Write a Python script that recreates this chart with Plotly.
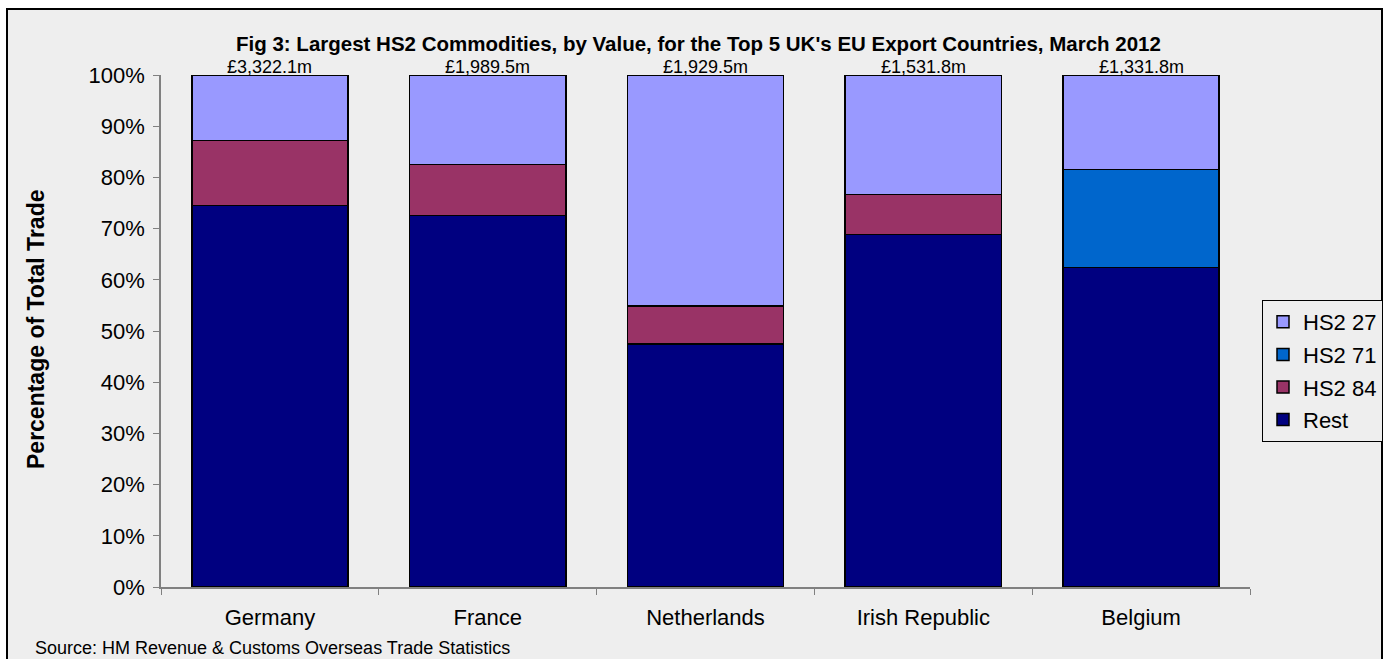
import plotly.graph_objects as go

# Top 5 UK EU export destinations, March 2012
countries = ["Germany", "France", "Netherlands", "Irish Republic", "Belgium"]
totals = ["£3,322.1m", "£1,989.5m", "£1,929.5m", "£1,531.8m", "£1,331.8m"]

# Share of total trade (%) by HS2 commodity chapter
rest = [74.5, 72.6, 47.5, 68.8, 62.4]
hs2_84 = [12.7, 9.9, 7.4, 7.9, None]
hs2_71 = [None, None, None, None, 19.1]
hs2_27 = [12.8, 17.5, 45.1, 23.3, 18.5]

# (name, values, colour, legend rank) - stacked bottom to top
series = [
    ("Rest", rest, "#000080", 4),
    ("HS2 84", hs2_84, "#993366", 3),
    ("HS2 71", hs2_71, "#0066CC", 2),
    ("HS2 27", hs2_27, "#9999FF", 1),
]

FONT = "Arial, Liberation Sans, sans-serif"
BG = "#EEEEEE"

# pixel layout of the plot area
W, H = 1388, 659
L, R, T, B = 161, 1250, 75, 587
pw, ph = R - L, B - T


def px(x):
    return (x - L) / pw


def py(y):
    return (B - y) / ph


fig = go.Figure()
for name, vals, color, rank in series:
    fig.add_trace(go.Bar(
        x=countries, y=vals, name=name, legendgroup=name, legendrank=rank,
        marker=dict(color=color, line=dict(color="black", width=1.5)),
        width=0.717,
    ))

for c, t in zip(countries, totals):
    fig.add_annotation(x=c, y=100, text=t, showarrow=False, yanchor="bottom",
                       xanchor="center", yshift=-4,
                       font=dict(family=FONT, size=18, color="black"))

fig.add_annotation(
    x=px(698), y=py(43), xref="paper", yref="paper", showarrow=False,
    xanchor="center", yanchor="middle",
    text="<b>Fig 3: Largest HS2 Commodities, by Value, for the Top 5 UK's EU Export Countries, March 2012</b>",
    font=dict(family=FONT, size=20.5, color="black"),
)
fig.add_annotation(
    x=px(36), y=py(330), xref="paper", yref="paper", showarrow=False,
    xanchor="center", yanchor="middle",
    text="<b>Percentage of Total Trade</b>", textangle=-90,
    font=dict(family=FONT, size=23, color="black"),
)
fig.add_annotation(
    x=px(33), y=py(648), xref="paper", yref="paper", showarrow=False,
    xanchor="left", yanchor="middle",
    text="Source: HM Revenue & Customs Overseas Trade Statistics",
    font=dict(family=FONT, size=18, color="black"),
)

# outer chart frame, in page pixels
fig.add_shape(type="rect", xref="paper", yref="paper", layer="below",
              x0=px(7), x1=px(1382), y0=py(680), y1=py(9),
              line=dict(color="black", width=2), fillcolor=BG)

fig.update_layout(
    width=W, height=H,
    margin=dict(l=L, r=W - R, t=T, b=H - B, pad=0, autoexpand=False),
    barmode="stack",
    paper_bgcolor="white", plot_bgcolor=BG,
    font=dict(family=FONT, color="black"),
    showlegend=True,
    legend=dict(
        x=px(1262), y=py(300), xanchor="left", yanchor="top",
        traceorder="grouped", tracegroupgap=1,
        bgcolor=BG, bordercolor="black", borderwidth=1,
        font=dict(family=FONT, size=22, color="black"),
        itemwidth=30,
    ),
    xaxis=dict(
        showline=True, linecolor="#808080", linewidth=1.5,
        ticks="outside", tickson="boundaries", ticklen=6, tickcolor="#808080",
        tickfont=dict(family=FONT, size=22, color="black"),
        ticklabelstandoff=10,
    ),
    yaxis=dict(
        range=[0, 100], dtick=10, ticksuffix="%",
        showgrid=False, zeroline=False,
        showline=True, linecolor="#808080", linewidth=1.5,
        ticks="outside", ticklen=6, tickcolor="#808080",
        tickfont=dict(family=FONT, size=22, color="black"),
        ticklabelstandoff=4,
    ),
)

fig.write_html("out.html")
